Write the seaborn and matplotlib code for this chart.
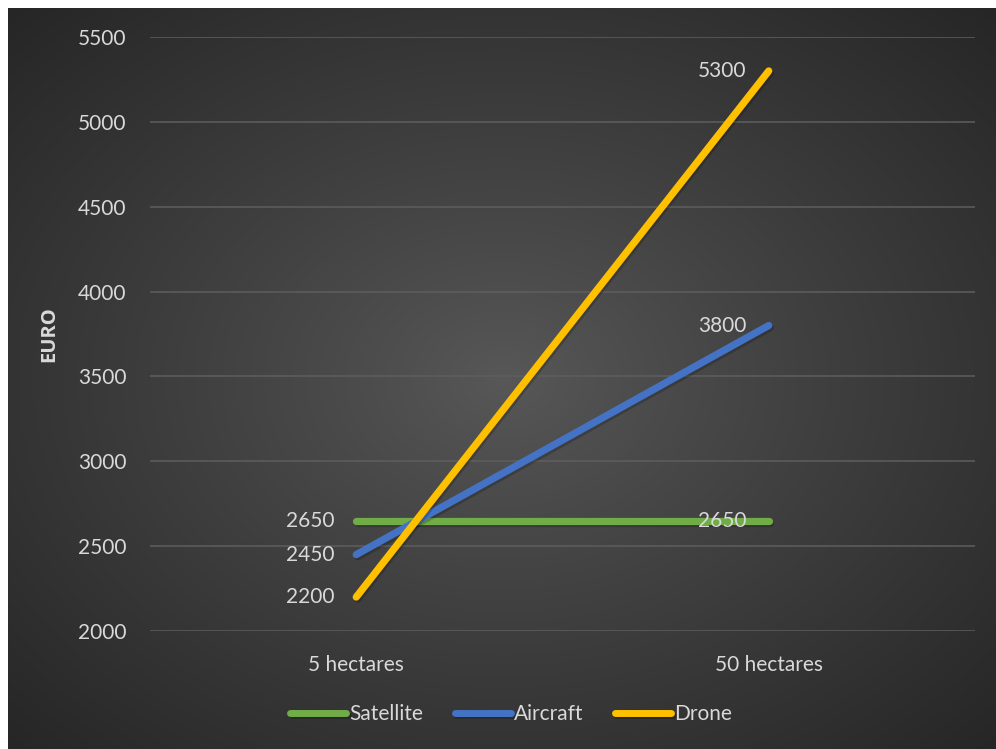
import numpy as np
import pandas as pd
import matplotlib
matplotlib.use("Agg")
import matplotlib.pyplot as plt
import matplotlib.patheffects as pe
import seaborn as sns

# Cost of field imaging by platform and farm size
categories = ["5 hectares", "50 hectares"]
satellite = [2650, 2650]
aircraft = [2450, 3800]
drone = [2200, 5300]
series_names = ["Satellite", "Aircraft", "Drone"]
colors = {"Satellite": "#70AD47", "Aircraft": "#4472C4", "Drone": "#FFC000"}
y_ticks = [2000, 2500, 3000, 3500, 4000, 4500, 5000, 5500]

rows = []
for name, vals in zip(series_names, [satellite, aircraft, drone]):
    for i, (c, v) in enumerate(zip(categories, vals)):
        rows.append({"size": c, "pos": i, "cost": v, "platform": name})
df = pd.DataFrame(rows)

sns.set_theme(style="dark")
plt.rcParams["font.family"] = ["Lato", "DejaVu Sans"]
text_col = "#D9D9D9"
fs = 15

W, H = 996, 749
fig = plt.figure(figsize=(W / 100, H / 100), dpi=100, facecolor="white")

# Radial-gradient chart background
bg = fig.add_axes([8 / W, 0, 1 - 8 / W, 1 - 8 / H])
bg.set_axis_off()
yy, xx = np.mgrid[0:400, 0:540]
cx, cy = 270, 200
r = np.sqrt(((xx - cx) / 270) ** 2 + ((yy - cy) / 200) ** 2) / np.sqrt(2)
shade = 0x58 - (0x58 - 0x26) * np.clip(r, 0, 1) ** 0.9
img = np.dstack([shade, shade, shade]) / 255.0
bg.imshow(img, aspect="auto", extent=[0, 1, 0, 1], interpolation="bilinear")
bg.set_xlim(0, 1)
bg.set_ylim(0, 1)

ax = fig.add_axes([150 / W, 1 - 631 / H, (975 - 150) / W, (631 - 37) / H])
ax.patch.set_alpha(0)

sns.lineplot(data=df, x="pos", y="cost", hue="platform", hue_order=series_names,
             palette=colors, linewidth=5.2, ax=ax, legend=True, sort=False,
             solid_capstyle="round")
for ln in ax.lines:
    ln.set_solid_capstyle("round")
    ln.set_path_effects([pe.SimpleLineShadow(offset=(1.2, -1.5), alpha=0.2, shadow_color="black"),
                         pe.Normal()])

ax.set_xlim(-0.5, 1.5)
ax.set_ylim(2000, 5500)
ax.set_yticks(y_ticks)
ax.set_xticks(range(len(categories)))
ax.set_xticklabels(categories)
ax.tick_params(axis="both", colors=text_col, labelsize=fs, length=0)
ax.tick_params(axis="y", pad=17)
ax.tick_params(axis="x", pad=17)
ax.grid(axis="y", color="#5E5E5E", linewidth=1.1)
ax.grid(axis="x", visible=False)
for s in ax.spines.values():
    s.set_visible(False)
ax.set_xlabel("")
ax.set_ylabel("EURO", color=text_col, fontsize=14.5, fontweight="bold",
              family=["Open Sans", "DejaVu Sans"])
ax.yaxis.set_label_coords((59 - 150) / (975 - 150), 0.5)

# Value labels to the left of each point
for name, vals in zip(series_names, [satellite, aircraft, drone]):
    for i, v in enumerate(vals):
        ax.annotate(f"{v}", (i, v), xytext=(-16, 0), textcoords="offset points",
                    ha="right", va="center", color=text_col, fontsize=fs)

handles, labels = ax.get_legend_handles_labels()
ax.legend_.remove()
for h in handles:
    h.set_linewidth(5)
    h.set_solid_capstyle("round")
leg = fig.legend(handles, labels, loc="center", bbox_to_anchor=(511 / W, 1 - 714 / H),
                 ncol=3, frameon=False, fontsize=fs, handlelength=2.7,
                 handletextpad=0.15, columnspacing=1.5)
for t in leg.get_texts():
    t.set_color(text_col)

fig.savefig("out.png", dpi=100, facecolor="white")
